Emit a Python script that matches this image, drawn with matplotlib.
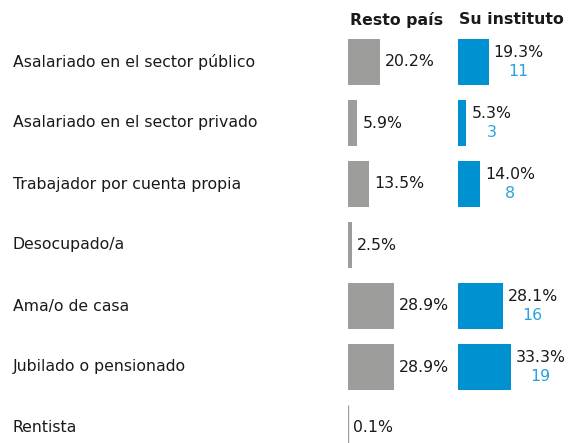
import matplotlib
matplotlib.use("Agg")
import matplotlib.pyplot as plt
import numpy as np

categories = ["Asalariado en el sector público", "Asalariado en el sector privado",
              "Trabajador por cuenta propia", "Desocupado/a", "Ama/o de casa",
              "Jubilado o pensionado", "Rentista"]
resto_pais = [20.2, 5.9, 13.5, 2.5, 28.9, 28.9, 0.1]
su_instituto = [19.3, 5.3, 14.0, None, 28.1, 33.3, None]
su_instituto_n = [11, 3, 8, None, 16, 19, None]
headers = ["Resto país", "Su instituto"]

W, H = 569, 443
fig = plt.figure(figsize=(W / 100, H / 100), dpi=100)
plt.rcParams['font.family'] = ['DejaVu Sans']

GRAY = "#9d9d9b"
BLUE = "#0091d1"
LBLUE = "#2aa3dc"
TXT = "#1a1a1a"

px_per_pct = 1.585
ax_w_px = 100
ylo = (443 - 62) / 61
yhi = (0 - 62) / 61

def make_ax(left_px):
    ax = fig.add_axes([left_px / W, 0, ax_w_px / W, 1])
    ax.set_xlim(0, ax_w_px / px_per_pct)
    ax.set_ylim(ylo, yhi)
    ax.axis("off")
    return ax

ax1 = make_ax(348)
ax2 = make_ax(458)
y = np.arange(len(categories))
fs = 11.3

ax1.barh(y, resto_pais, height=0.755, color=GRAY, linewidth=0)
# ensure thin bars remain visible
for yi, v in zip(y, resto_pais):
    if v < 1:
        ax1.barh(yi, v, height=0.755, color=GRAY, edgecolor=GRAY, linewidth=1.0)
    ax1.annotate(f"{v:.1f}%", xy=(v, yi), xytext=(5, 0), textcoords="offset pixels",
                 ha="left", va="center", fontsize=fs, color=TXT)

vals2 = [np.nan if v is None else v for v in su_instituto]
ax2.barh(y, vals2, height=0.755, color=BLUE, linewidth=0)
for yi, v, n in zip(y, su_instituto, su_instituto_n):
    if v is None:
        continue
    t = ax2.annotate(f"{v:.1f}%", xy=(v, yi), xytext=(5, 9.5), textcoords="offset pixels",
                     ha="left", va="center", fontsize=fs, color=TXT)
    fig.canvas.draw()
    bb = t.get_window_extent()
    cx = (bb.x0 + bb.x1) / 2
    xd = ax2.transData.inverted().transform((cx, 0))[0]
    ax2.annotate(f"{n}", xy=(xd, yi), xytext=(0, -9.5), textcoords="offset pixels",
                 ha="center", va="center", fontsize=fs, color=LBLUE)

for yi, c in zip(y, categories):
    ax1.annotate(c, xy=(0, yi), xycoords=("figure pixels", "data"),
                 xytext=(13, 0), textcoords="offset pixels",
                 ha="left", va="center", fontsize=fs, color=TXT)

fig.text(350 / W, 1 - 20 / H, headers[0], ha="left", va="center",
         fontsize=fs, fontweight="bold", color=TXT)
fig.text(459 / W, 1 - 20 / H, headers[1], ha="left", va="center",
         fontsize=fs, fontweight="bold", color=TXT)

fig.savefig("out.png", dpi=100, facecolor="white")
